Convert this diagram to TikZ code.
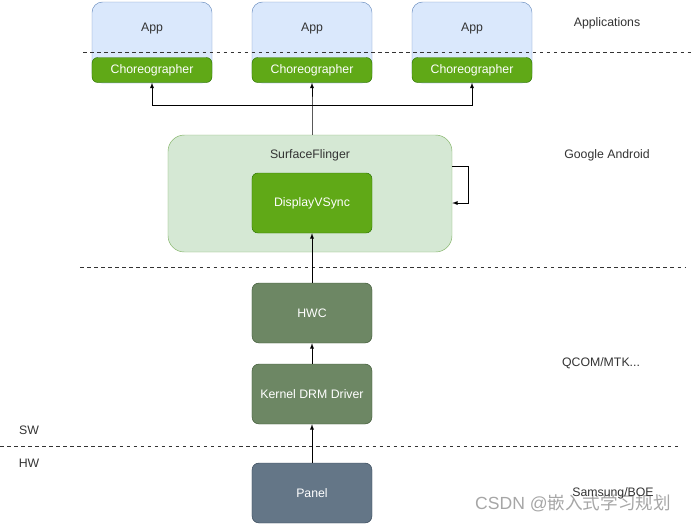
\documentclass[tikz,border=0pt]{standalone}
\usepackage{fontspec}
\setmainfont{Liberation Sans}
\newfontfamily\cjkfont{Noto Sans CJK SC}
\usetikzlibrary{positioning,arrows}

\definecolor{appblue}{HTML}{DAE8FC}
\definecolor{appedge}{HTML}{6C8EBF}
\definecolor{sfgreen}{HTML}{D5E8D4}
\definecolor{sfedge}{HTML}{82B366}
\definecolor{chgreen}{HTML}{60A917}
\definecolor{chedge}{HTML}{2D7600}
\definecolor{hwgreen}{HTML}{6D8764}
\definecolor{hwedge}{HTML}{3A5431}
\definecolor{pnlblue}{HTML}{647687}
\definecolor{pnledge}{HTML}{314354}

\begin{document}
\begin{tikzpicture}[x=0.03cm,y=-0.03cm]
    \tikzset{every path/.style={>=latex},
      every node/.style={font=\fontsize{10.5}{12}\selectfont},
      appbox/.style={draw=appedge,fill=appblue,rounded corners=9pt,inner sep=0pt},
      greenbox/.style={draw=chedge,fill=chgreen,text=white,rounded corners=5pt,minimum width=3.6cm},
      stackbox/.style={draw=hwedge,fill=hwgreen,text=white,rounded corners=6pt,minimum width=3.6cm,minimum height=1.8cm},
      layer/.style={black!80},
      sep line/.style={dashed,black!80,line width=0.5pt},
      link/.style={->,line width=0.6pt}}
    \useasboundingbox (0,0) rectangle (694,524);
% applications with their choreographers
    \foreach \x [count=\i] in {152,312,472}
    { \draw [appbox] (\x-60,2) rectangle (\x+60,83);
      \node [layer] (app\i) at (\x,29) {App};
      \node [greenbox,minimum height=0.75cm] (chor\i) at (\x,70) {Choreographer};
    }
    \draw [sep line] (83,52) -- (694,52);
% surfaceflinger
    \node [draw=sfedge,fill=sfgreen,rounded corners=14pt,minimum width=8.52cm,minimum height=3.51cm] (sf) at (310,193.5) {};
    \node [layer] (sflabel) at (310,155) {SurfaceFlinger};
    \node [greenbox,minimum height=1.8cm] (vsync) at (312,203) {DisplayVSync};
    \coordinate (split) at (312,105);
    \draw [link] (sf.north -| split) -- (split) -- (chor2);
    \draw [link] (split) -| (chor1);
    \draw [link] (split) -| (chor3);
    \coordinate (loopa) at (468,166);
    \coordinate (loopb) at (468,203);
    \draw [link] (sf.east |- loopa) -- (loopa) -- (loopb) -- (sf.east |- loopb);
    \draw [sep line] (80,267) -- (686,267);
% vendor stack
    \node [stackbox] (hwc) at (312,313) {HWC};
    \node [stackbox] (drm) at (312,394) {Kernel DRM Driver};
    \draw [sep line] (0,446) -- (680,446);
    \node [stackbox,draw=pnledge,fill=pnlblue] (panel) at (312,493) {Panel};
    \draw [link] (panel) -- (drm);
    \draw [link] (drm) -- (hwc);
    \draw [link] (hwc) -- (vsync);
% layer names
    \node [layer] (lapp) at (607,23) {Applications};
    \node [layer] (lgoo) at (607,155) {Google Android};
    \node [layer] (lqc) at (601,363) {QCOM/MTK...};
    \node [layer] (lsw) at (29,430) {SW};
    \node [layer] (lhw) at (29,463) {HW};
    \node [black!35,font=\fontsize{15}{17}\selectfont] (wm) at (573,503) {CSDN @{\cjkfont 嵌入式学习规划}};
    \node [layer] (lsam) at (613,493) {Samsung/BOE};
\end{tikzpicture}
\end{document}
